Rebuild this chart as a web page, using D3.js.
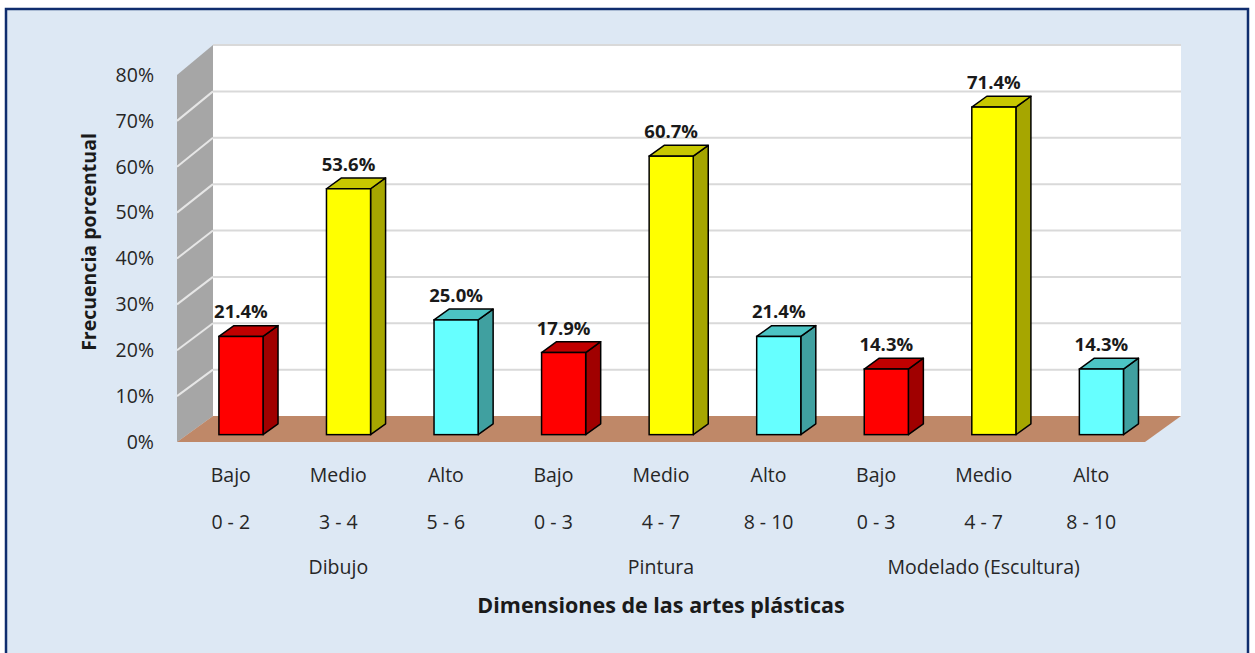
<!DOCTYPE html>
<html><head><meta charset="utf-8">
<script src="https://cdn.jsdelivr.net/npm/d3@7"></script>
<style>body{margin:0;background:#fff}svg{display:block}</style>
</head><body><svg id="c" width="1255" height="653"></svg>
<script>
const levels = ["Bajo","Medio","Alto","Bajo","Medio","Alto","Bajo","Medio","Alto"];
const ranges = ["0 - 2","3 - 4","5 - 6","0 - 3","4 - 7","8 - 10","0 - 3","4 - 7","8 - 10"];
const dimensions = ["Dibujo","Pintura","Modelado (Escultura)"];
const values = [21.4,53.6,25.0,17.9,60.7,21.4,14.3,71.4,14.3];
const yTicks = [0,10,20,30,40,50,60,70,80];
const yTitle = "Frecuencia porcentual";
const xTitle = "Dimensiones de las artes plásticas";

const faceColor = {Bajo:"#ff0000", Medio:"#ffff00", Alto:"#66ffff"};
const sideColor = {Bajo:"#a00000", Medio:"#a6a600", Alto:"#40a0a0"};
const topColor  = {Bajo:"#c00000", Medio:"#c8c800", Alto:"#4cc4c4"};

const svg = d3.select("#c");
const FONT = "'Open Sans', 'Noto Sans', sans-serif";

// background + border
svg.append("rect").attr("x",6).attr("y",9).attr("width",1242).attr("height",660)
  .attr("fill","#dde8f4").attr("stroke","#0f2d6e").attr("stroke-width",2.5);

// 3D geometry
const DX = 36, DY = -26;
const idx = values.map((d,i)=>i);
const x = d3.scaleBand().domain(idx).range([177,1145]).paddingInner(0.59).paddingOuter(0.295);
const xStep = d3.scaleBand().domain(idx).range([177,1145]);
const yFront = d3.scaleLinear().domain([0,80]).range([442,75]);
const yBack = d3.scaleLinear().domain([0,80]).range([416,45]);
const off = t => [DX*t, DY*t];

// back wall
svg.append("rect").attr("x",177+DX).attr("y",yBack(80)).attr("width",968).attr("height",yBack(0)-yBack(80)).attr("fill","#ffffff");
svg.append("g").selectAll("line").data(yTicks.filter(v=>v>0)).join("line")
  .attr("x1",177+DX).attr("x2",1145+DX).attr("y1",d=>yBack(d)).attr("y2",d=>yBack(d))
  .attr("stroke","#d9d9d9").attr("stroke-width",2);

// side wall
svg.append("path").attr("d",`M177,${yFront(0)}L177,${yFront(80)}L${177+DX},${yBack(80)}L${177+DX},${yBack(0)}Z`).attr("fill","#a6a6a6");
svg.append("g").selectAll("line").data(yTicks.filter(v=>v>0 && v<80)).join("line")
  .attr("x1",177).attr("x2",177+DX).attr("y1",d=>yFront(d)).attr("y2",d=>yBack(d))
  .attr("stroke","#e6e6e6").attr("stroke-width",2);

// floor
svg.append("path").attr("d",`M177,${yFront(0)}L1145,${yFront(0)}L${1145+DX},${yBack(0)}L${177+DX},${yBack(0)}Z`).attr("fill","#bf8868");

// bars
const t1 = 0.283, t2 = 0.70;
const [fx, fy] = off(t1);
const bdx = DX*(t2-t1), bdy = DY*(t2-t1);
const bars = svg.append("g").selectAll("g").data(values).join("g");
bars.each(function(v,i){
  const g = d3.select(this);
  const lv = levels[i];
  const x0 = x(i)+fx, x1 = x0 + x.bandwidth();
  const yb = yFront(0)+fy, yt = yFront(v)+fy;
  g.append("path").attr("d",`M${x1},${yb}L${x1},${yt}L${x1+bdx},${yt+bdy}L${x1+bdx},${yb+bdy}Z`)
    .attr("fill",sideColor[lv]).attr("stroke","#000").attr("stroke-width",1.5).attr("stroke-linejoin","round");
  g.append("path").attr("d",`M${x0},${yt}L${x1},${yt}L${x1+bdx},${yt+bdy}L${x0+bdx},${yt+bdy}Z`)
    .attr("fill",topColor[lv]).attr("stroke","#000").attr("stroke-width",1.5).attr("stroke-linejoin","round");
  g.append("rect").attr("x",x0).attr("y",yt).attr("width",x1-x0).attr("height",yb-yt)
    .attr("fill",faceColor[lv]).attr("stroke","#000").attr("stroke-width",1.5);
  g.append("text").attr("x",(x0+x1)/2).attr("y",yt-18).attr("text-anchor","middle")
    .attr("font-family",FONT).attr("font-weight","bold").attr("font-size",18.5).attr("fill","#1a1a1a")
    .text(v.toFixed(1)+"%");
});

// y tick labels
svg.append("g").selectAll("text").data(yTicks).join("text")
  .attr("x",154).attr("y",d=>yFront(d)).attr("dy","0.35em").attr("text-anchor","end")
  .attr("font-family",FONT).attr("font-size",19.5).attr("fill","#262626")
  .text(d=>d+"%");

// category labels
const cx = i => xStep(i)+xStep.bandwidth()/2;
svg.append("g").selectAll("text").data(levels).join("text")
  .attr("x",(d,i)=>cx(i)).attr("y",475).attr("dy","0.35em").attr("text-anchor","middle")
  .attr("font-family",FONT).attr("font-size",19.5).attr("fill","#262626").text(d=>d);
svg.append("g").selectAll("text").data(ranges).join("text")
  .attr("x",(d,i)=>cx(i)).attr("y",522).attr("dy","0.35em").attr("text-anchor","middle")
  .attr("font-family",FONT).attr("font-size",19.5).attr("fill","#262626").text(d=>d);
svg.append("g").selectAll("text").data(dimensions).join("text")
  .attr("x",(d,i)=>cx(i*3+1)).attr("y",567).attr("dy","0.35em").attr("text-anchor","middle")
  .attr("font-family",FONT).attr("font-size",19.5).attr("fill","#262626").text(d=>d);

// axis titles
svg.append("text").attr("x",661).attr("y",605).attr("dy","0.35em").attr("text-anchor","middle")
  .attr("font-family",FONT).attr("font-weight","bold").attr("font-size",21.5).attr("fill","#1a1a1a").text(xTitle);
svg.append("text").attr("transform","translate(89,242) rotate(-90)").attr("dy","0.35em").attr("text-anchor","middle")
  .attr("font-family",FONT).attr("font-weight","bold").attr("font-size",19.5).attr("fill","#1a1a1a").text(yTitle);
</script></body></html>
